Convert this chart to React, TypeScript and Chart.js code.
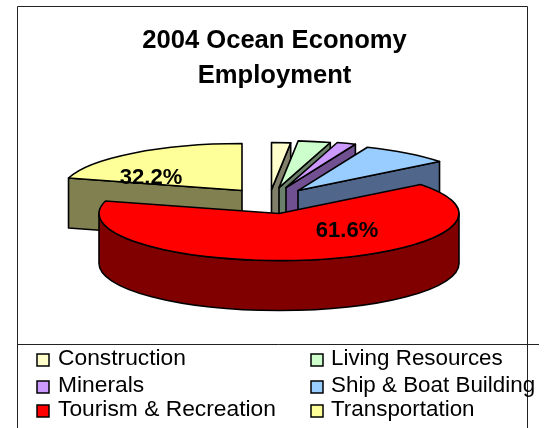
import React, { useEffect, useRef } from "react";
import { Chart, registerables } from "chart.js";

Chart.register(...registerables);

const categories = ["Construction", "Living Resources", "Minerals", "Ship & Boat Building", "Tourism & Recreation", "Transportation"];
// Shares as drawn in the picture (the printed labels differ from the drawn angles).
const drawnShares = [1.7, 2.9, 1.7, 8.1, 64.9, 20.7];
const printedLabels = ["", "", "", "", "61.6%", "32.2%"];
const titleLines = ["2004 Ocean Economy", "Employment"];

const faceColors = ["#FFFFCC", "#CCFFCC", "#CC99FF", "#99CCFF", "#FF0000", "#FFFF99"];
const wallColors = ["#80806A", "#6A806A", "#705090", "#50668A", "#800000", "#808050"];
const explodeX = [-3, 4.5, 11.5, 23.5, 4.5, -32.5];
const explodeY = [-24, -26, -26, -23, 0, -23];
const labelNudgeX = [0, 0, 0, 0, 68, -91];
const labelNudgeY = [0, 0, 0, 0, 17, -13];
const drawOrder = [5, 0, 1, 2, 3, 4];

const SQUASH = 47 / 180;
const DEPTH = 50;
const FONT = "'Liberation Sans', Arial, sans-serif";

const pie3d = {
  id: "pie3d",
  beforeDraw(chart: any) {
    const { ctx } = chart;
    ctx.save();
    ctx.strokeStyle = "#222";
    ctx.lineWidth = 1;
    ctx.beginPath();
    ctx.moveTo(17.5, 428);
    ctx.lineTo(17.5, 6.5);
    ctx.lineTo(527.5, 6.5);
    ctx.lineTo(527.5, 428);
    ctx.moveTo(17.5, 344.5);
    ctx.lineTo(539, 344.5);
    ctx.stroke();
    ctx.restore();
  },
  beforeDatasetDraw() {
    return false;
  },
  afterDatasetsDraw(chart: any) {
    const { ctx } = chart;
    const arcs = chart.getDatasetMeta(0).data;
    ctx.save();
    ctx.lineWidth = 1.6;
    ctx.strokeStyle = "#000";
    ctx.lineJoin = "round";
    for (const i of drawOrder) {
      const arc = arcs[i];
      const R = arc.outerRadius;
      const x = arc.x + explodeX[i];
      const y = arc.y + explodeY[i];
      const s = arc.startAngle;
      const e = arc.endAngle;
      const rim = (a: number) => [x + R * Math.cos(a), y + R * SQUASH * Math.sin(a)];
      ctx.fillStyle = wallColors[i];
      const cutFace = (a: number) => {
        const [px, py] = rim(a);
        ctx.beginPath();
        ctx.moveTo(x, y);
        ctx.lineTo(px, py);
        ctx.lineTo(px, py + DEPTH);
        ctx.lineTo(x, y + DEPTH);
        ctx.closePath();
        ctx.fill();
        ctx.stroke();
      };
      if (Math.cos(s) < -1e-6) cutFace(s);
      if (Math.cos(e) > 1e-6) cutFace(e);
      for (const base of [0, 2 * Math.PI]) {
        const a1 = Math.max(s, base);
        const a2 = Math.min(e, base + Math.PI);
        if (a2 > a1) {
          ctx.beginPath();
          ctx.ellipse(x, y, R, R * SQUASH, 0, a1, a2);
          ctx.ellipse(x, y + DEPTH, R, R * SQUASH, 0, a2, a1, true);
          ctx.closePath();
          ctx.fill();
          ctx.stroke();
        }
      }
      ctx.save();
      ctx.translate(x, y);
      ctx.scale(1, SQUASH);
      ctx.translate(-arc.x, -arc.y);
      arc.draw(ctx);
      ctx.restore();
      ctx.beginPath();
      ctx.moveTo(x, y);
      ctx.ellipse(x, y, R, R * SQUASH, 0, s, e);
      ctx.closePath();
      ctx.stroke();
    }
    ctx.fillStyle = "#000";
    ctx.font = `bold 22px ${FONT}`;
    ctx.textAlign = "center";
    ctx.textBaseline = "middle";
    printedLabels.forEach((label, i) => {
      if (!label) return;
      const arc = arcs[i];
      ctx.fillText(label, arc.x + explodeX[i] + labelNudgeX[i], arc.y + explodeY[i] + labelNudgeY[i]);
    });
    ctx.restore();
  },
  afterDraw(chart: any) {
    const { ctx } = chart;
    const colX = [37, 311];
    const colFont = [22.8, 22.4];
    const colGap = [21, 20];
    const rowY = [359, 386, 410];
    ctx.save();
    ctx.textBaseline = "middle";
    ctx.textAlign = "left";
    categories.forEach((name, i) => {
      const col = i % 2;
      const bx = colX[col];
      const by = rowY[Math.floor(i / 2)];
      ctx.fillStyle = faceColors[i];
      ctx.strokeStyle = "#000";
      ctx.lineWidth = 1.5;
      ctx.fillRect(bx, by - 5, 12, 12);
      ctx.strokeRect(bx, by - 5, 12, 12);
      ctx.fillStyle = "#000";
      ctx.font = `${colFont[col]}px ${FONT}`;
      ctx.fillText(name, bx + colGap[col], by);
    });
    ctx.restore();
  },
};

export default function App() {
  const ref = useRef<HTMLCanvasElement>(null);
  useEffect(() => {
    document.body.style.margin = "0";
    const chart = new Chart(ref.current!, {
      type: "pie",
      data: {
        labels: categories,
        datasets: [{ data: drawnShares, backgroundColor: faceColors, borderWidth: 0 }],
      },
      options: {
        responsive: false,
        animation: false,
        radius: 180,
        layout: { padding: { left: 10, bottom: 94 } },
        plugins: {
          legend: { display: false },
          tooltip: { enabled: false },
          title: {
            display: true,
            text: titleLines,
            color: "#000",
            font: { family: FONT, size: 25.6, weight: "bold", lineHeight: 1.37 },
            padding: { top: 23, bottom: 0 },
          },
        },
      } as any,
      plugins: [pie3d as any],
    });
    return () => chart.destroy();
  }, []);
  return <canvas ref={ref} width={539} height={428} style={{ display: "block" }} />;
}
